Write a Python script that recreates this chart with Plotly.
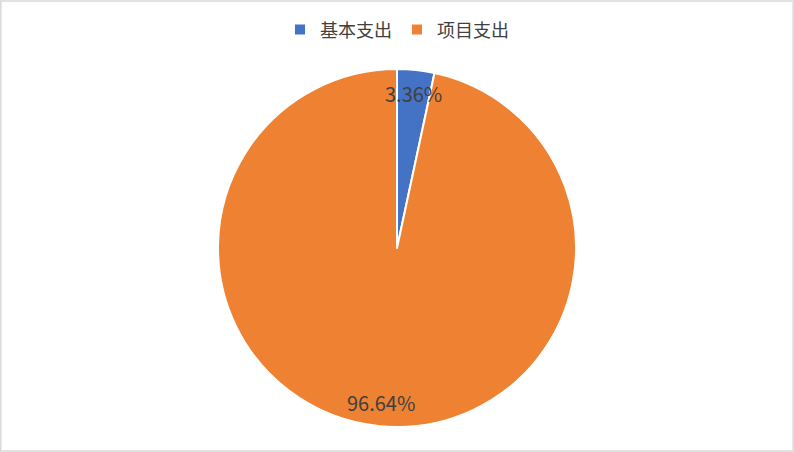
import numpy as np
import plotly.graph_objects as go

# spending split
categories = ["基本支出", "项目支出"]
shares = [3.36, 96.64]
colors = ["#4472C4", "#EE8232"]

W, H = 794, 452
cx, cy, r = 397, 204, 179  # pie centre (px from bottom-left) and radius

fig = go.Figure(go.Pie(
    labels=categories,
    values=shares,
    sort=False,
    direction="clockwise",
    rotation=0,
    textinfo="none",
    hoverinfo="label+percent",
    marker=dict(colors=colors, line=dict(color="white", width=2)),
    domain=dict(x=[0, 1], y=[(cy - r) / H, (cy + r) / H]),
))

# percentage labels placed near the rim, along each slice's mid angle
total = sum(shares)
start = 0.0
for name, v in zip(categories, shares):
    mid = (start + v / 2) / total * 2 * np.pi
    start += v
    rr = 0.87 * r
    fig.add_annotation(
        x=(cx + rr * np.sin(mid)) / W,
        y=(cy + rr * np.cos(mid)) / H,
        xref="paper", yref="paper",
        xanchor="center", yanchor="middle",
        text=f"{v:.2f}%",
        showarrow=False,
        font=dict(size=20, color="#404040"),
    )

fig.add_shape(type="rect", xref="paper", yref="paper",
              x0=0.001, y0=0.002, x1=0.999, y1=0.998,
              line=dict(color="#D9D9D9", width=1.5))

fig.update_layout(
    width=W, height=H,
    margin=dict(l=0, r=0, t=0, b=0),
    paper_bgcolor="white",
    font=dict(family="Noto Sans CJK SC, Noto Sans, sans-serif", color="#404040"),
    showlegend=True,
    legend=dict(orientation="h", x=0.5, xanchor="center", y=0.975, yanchor="top",
                font=dict(size=18, color="#404040"), itemwidth=30),
)

# drop the browser's default body margin so the figure sits at the page corner
fig.write_html("out.html", config={"displayModeBar": False},
               post_script="document.body.style.margin='0';")
